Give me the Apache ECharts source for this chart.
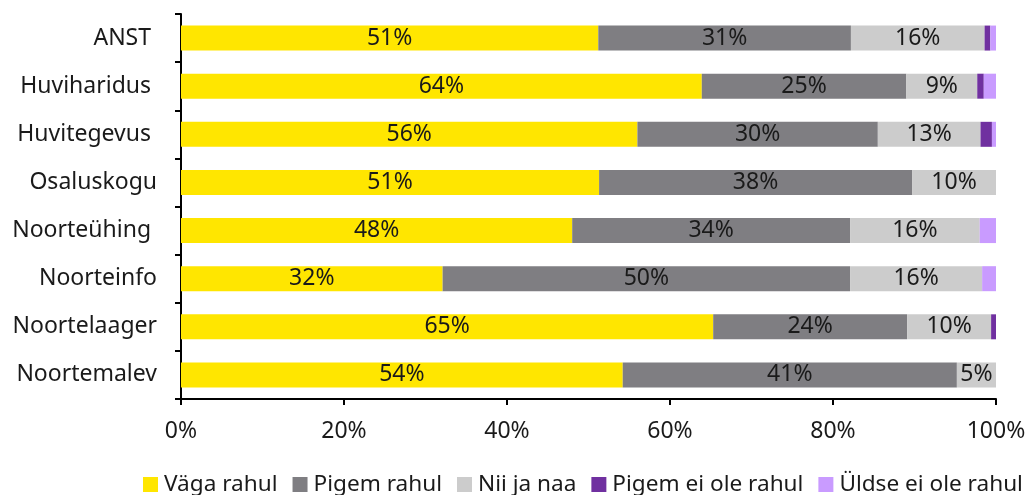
<!DOCTYPE html>
<html>
<head>
<meta charset="utf-8">
<script src="https://cdn.jsdelivr.net/npm/echarts@6/dist/echarts.min.js"></script>
<style>
  html, body { margin: 0; padding: 0; background: #fff; }
  #chart { width: 1031px; height: 495px; }
</style>
</head>
<body>
<div id="chart"></div>
<script>
// kategooriad ülevalt alla (mõnel on lõpus tühik nagu originaalis)
const categories = ['ANST ', 'Huviharidus ', 'Huvitegevus ', 'Osaluskogu', 'Noorteühing ', 'Noorteinfo', 'Noortelaager', 'Noortemalev']
const seriesNames = ['Väga rahul', 'Pigem rahul', 'Nii ja naa', 'Pigem ei ole rahul', 'Üldse ei ole rahul']
const vagaRahul = [51.2, 63.9, 56.0, 51.3, 48.0, 32.1, 65.3, 54.2]
const pigemRahul = [31.0, 25.1, 29.5, 38.4, 34.1, 50.0, 23.8, 41.0]
const niiJaNaa = [16.4, 8.7, 12.6, 10.3, 15.9, 16.2, 10.3, 4.8]
const pigemEiOle = [0.7, 0.8, 1.4, 0, 0, 0, 0.6, 0]
const uldseEiOle = [0.7, 1.5, 0.5, 0, 2.0, 1.7, 0, 0]
const xTicks = [0, 20, 40, 60, 80, 100]

const colors = ['#FFE600', '#7F7E82', '#CCCCCC', '#7030A0', '#C99BFF']
const values = [vagaRahul, pigemRahul, niiJaNaa, pigemEiOle, uldseEiOle]
const font = 'Noto Sans'

let myChart = echarts.init(document.getElementById('chart'))
myChart.setOption({
  animation: false,
  grid: {
    left: 181,
    right: 35,
    top: 14,
    bottom: 96
  },
  legend: {
    bottom: -1,
    left: 143,
    width: 1000,
    padding: 0,
    itemWidth: 15,
    itemHeight: 15,
    itemGap: 15,
    icon: 'rect',
    textStyle: { fontFamily: font, fontSize: 22.6, color: '#1a1a1a', padding: [0, 0, 0, 1] },
    data: seriesNames
  },
  xAxis: {
    type: 'value',
    min: xTicks[0],
    max: xTicks[xTicks.length - 1],
    interval: 20,
    splitLine: { show: false },
    axisLine: { show: true, lineStyle: { color: '#000', width: 2 } },
    axisTick: { show: true, length: 6, lineStyle: { color: '#000', width: 2 } },
    axisLabel: {
      fontFamily: font,
      fontSize: 23,
      color: '#1a1a1a',
      margin: 21,
      formatter: v => v + '%'
    }
  },
  yAxis: {
    type: 'category',
    inverse: true,
    data: categories,
    axisLine: { show: true, lineStyle: { color: '#000', width: 2 } },
    axisTick: { show: true, length: 6, lineStyle: { color: '#000', width: 2 } },
    axisLabel: {
      fontFamily: font,
      fontSize: 23,
      color: '#1a1a1a',
      margin: 24
    }
  },
  series: seriesNames.map((name, i) => ({
    name: name,
    type: 'bar',
    stack: 'total',
    barWidth: 25,
    itemStyle: { color: colors[i] },
    label: {
      show: i < 3,
      position: 'inside',
      fontFamily: font,
      fontSize: 23,
      color: '#1a1a1a',
      formatter: p => p.value >= 4 ? Math.round(p.value) + '%' : ''
    },
    data: values[i]
  }))
})
</script>
</body>
</html>
